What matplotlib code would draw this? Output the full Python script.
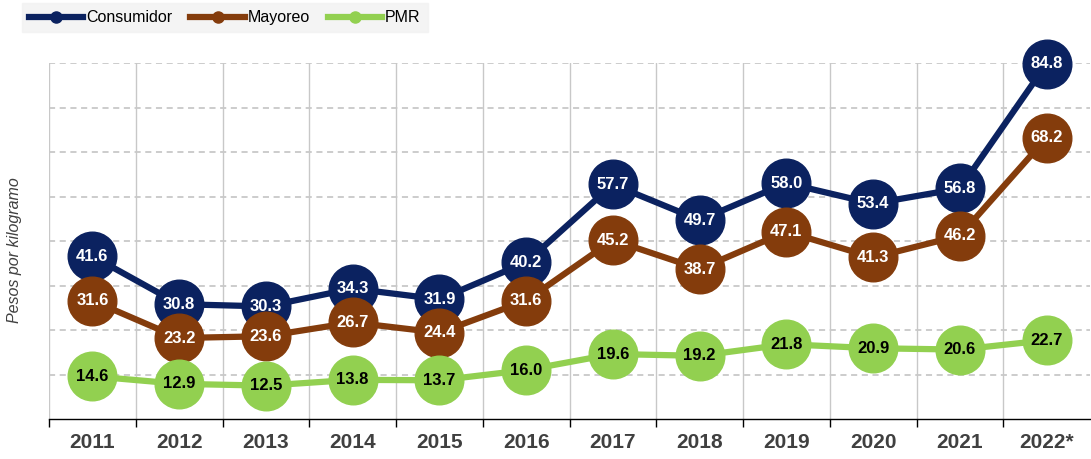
import matplotlib
matplotlib.use("Agg")
import matplotlib.pyplot as plt
from matplotlib.lines import Line2D

years = ["2011", "2012", "2013", "2014", "2015", "2016", "2017", "2018", "2019", "2020", "2021", "2022*"]
consumidor = [41.6, 30.8, 30.3, 34.3, 31.9, 40.2, 57.7, 49.7, 58.0, 53.4, 56.8, 84.8]
mayoreo = [31.6, 23.2, 23.6, 26.7, 24.4, 31.6, 45.2, 38.7, 47.1, 41.3, 46.2, 68.2]
pmr = [14.6, 12.9, 12.5, 13.8, 13.7, 16.0, 19.6, 19.2, 21.8, 20.9, 20.6, 22.7]

plt.rcParams['font.family'] = ['Liberation Sans', 'DejaVu Sans']

fig = plt.figure(figsize=(10.91, 4.59), dpi=100)
ax = fig.add_axes([49/1091, 1 - 419/459, 1 - 49/1091 - 1/1091, (419 - 63) / 459])

series = [
    ("Consumidor", consumidor, "#0b2260", "white"),
    ("Mayoreo", mayoreo, "#843c0c", "white"),
    ("PMR", pmr, "#92d050", "black"),
]
x = list(range(len(years)))
for name, vals, col, tcol in series:
    ax.plot(x, vals, color=col, lw=4.5, marker='o', ms=35, mec=col, mfc=col, zorder=3,
            solid_capstyle='round', clip_on=False)
    for xi, v in zip(x, vals):
        ax.text(xi, v, f"{v:.1f}", ha='center', va='center', color=tcol, fontsize=12,
                fontweight='bold', zorder=4, clip_on=False)

ax.set_xlim(-0.5, len(years) - 0.5)
ax.set_ylim(5, 85)
ax.set_yticks([15, 25, 35, 45, 55, 65, 75, 85])
ax.set_yticklabels([])
ax.tick_params(axis='y', length=0)
for y in [15, 25, 35, 45, 55, 65, 75, 85]:
    ax.axhline(y, color='#bfbfbf', lw=1.1, ls=(0, (4, 3)), zorder=1)
for b in range(len(years)):
    ax.axvline(b - 0.5, color='#c8c8c8', lw=1.0, zorder=1)

ax.set_xticks([i - 0.5 for i in range(len(years))], minor=False)
ax.set_xticklabels([])
ax.tick_params(axis='x', length=6, color='black', width=1, direction='out')
ax.set_xticks(x, minor=True)
ax.set_xticklabels(years, minor=True, fontsize=15, fontweight='bold', color='#404040')
ax.tick_params(axis='x', which='minor', length=0, pad=10)

for s in ['top', 'right', 'left']:
    ax.spines[s].set_visible(False)
ax.spines['bottom'].set_color('black')
ax.spines['bottom'].set_linewidth(1.0)

fig.text(15/1091, 1 - 250/459, "Pesos por kilogramo", rotation=90, ha='center', va='center',
         fontsize=11.5, style='italic', color='#404040')

handles = [Line2D([0], [0], color=c, lw=4.5, marker='o', ms=8, mfc=c, mec=c) for _, _, c, _ in series]
leg = fig.legend(handles, [s[0] for s in series], loc='upper left', bbox_to_anchor=(22/1091, 1 - 3/459),
                 ncol=3, frameon=True, fontsize=11.5, handlelength=3.4, columnspacing=1.1,
                 handletextpad=0.2, borderpad=0.45, fancybox=False, borderaxespad=0)
leg.get_frame().set_facecolor('#f2f2f2')
leg.get_frame().set_edgecolor('#f2f2f2')

fig.savefig("out.png", dpi=100)
